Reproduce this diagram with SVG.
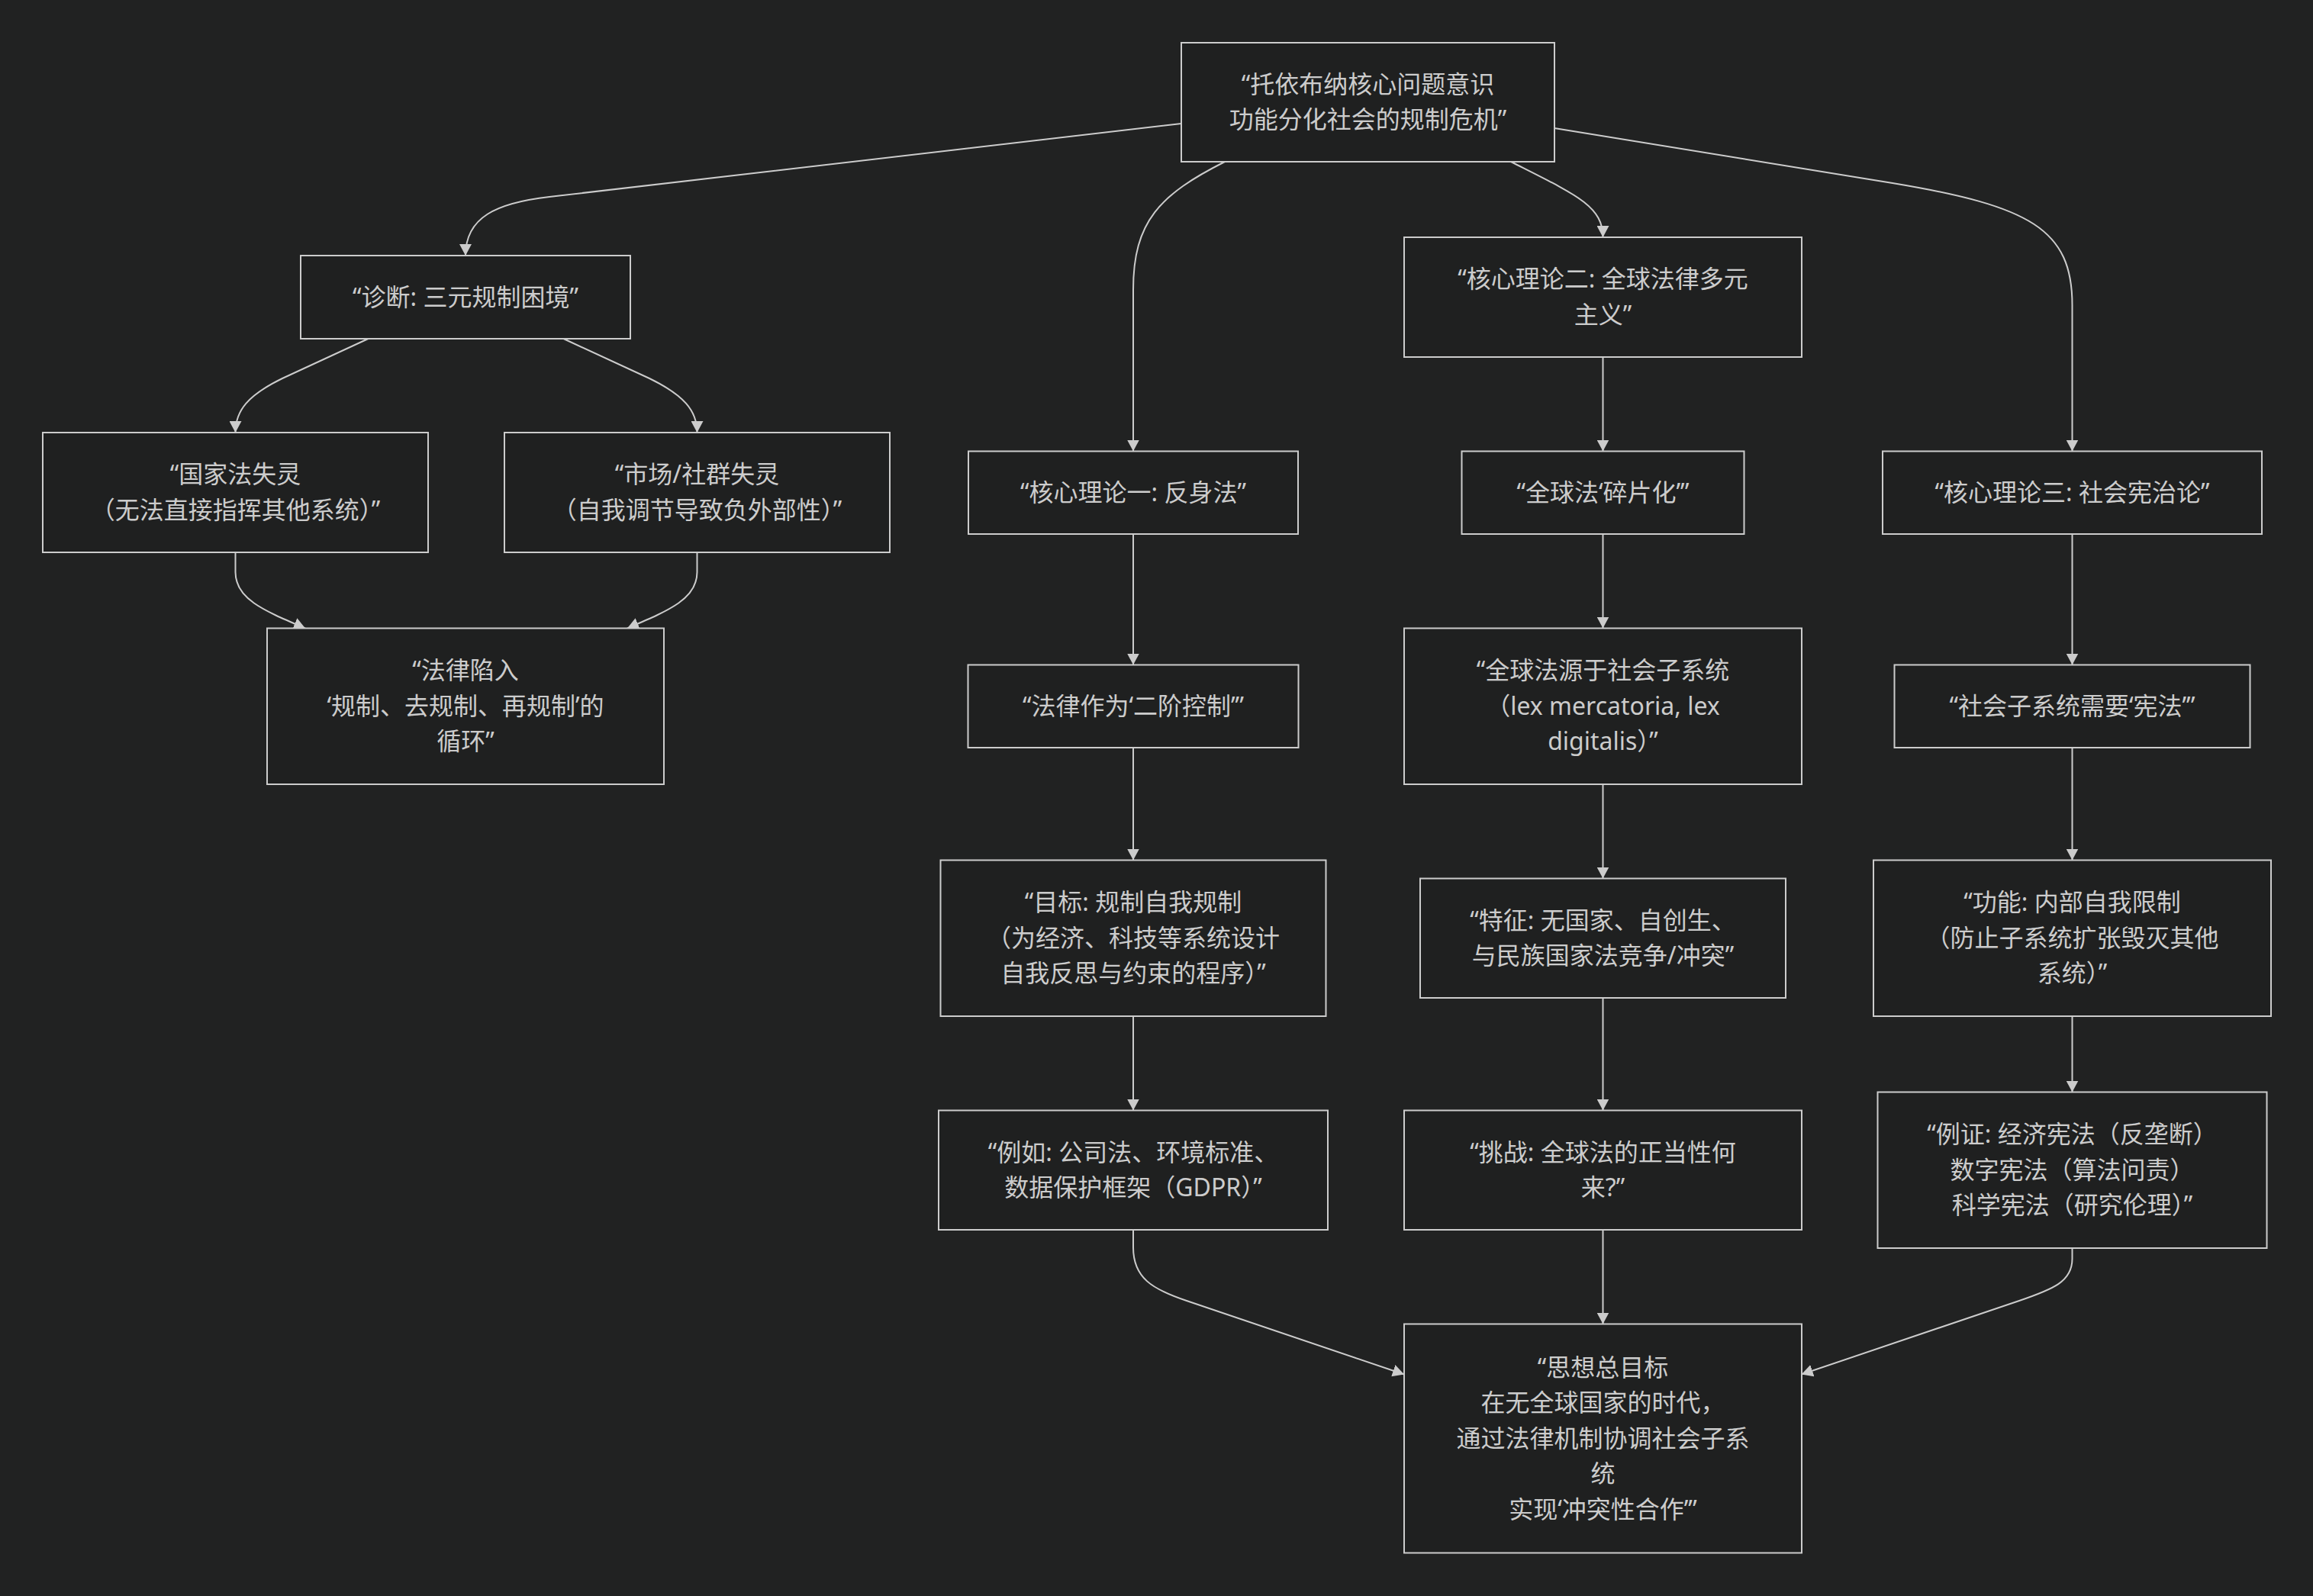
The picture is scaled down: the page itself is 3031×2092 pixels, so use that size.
<svg xmlns="http://www.w3.org/2000/svg" width="3031" height="2092" viewBox="0 0 3031 2092">
<style>
.bg{fill:#212222}
.node rect{fill:#1f2020;stroke:#cccccc;stroke-width:2}
.node text{fill:#cccccc;font-family:"Noto Sans","Noto Sans CJK SC",sans-serif;font-size:32px;text-anchor:middle}
.edges path{fill:none;stroke:#cccccc;stroke-width:2;marker-end:url(#arrow)}
</style>
<defs>
<marker id="arrow" markerUnits="userSpaceOnUse" viewBox="0 0 15 16" refX="15" refY="8" markerWidth="15" markerHeight="16" orient="auto">
<path d="M0,0 L15,8 L0,16 z" fill="#cccccc"/>
</marker>
</defs>
<rect class="bg" x="0" y="0" width="3031" height="2092"/>
<g id="edges" class="edges">
<path d="M1548,162 L720,258 C650,266 610,285 610,335"/>
<path d="M1605,212 C1520,255 1485,290 1485,380 L1485,591.5"/>
<path d="M1980,212 C2065,255 2100.5,270 2100.5,311"/>
<path d="M2037,168 L2480,240 C2660,270 2715.5,300 2715.5,400 L2715.5,591.5"/>
<path d="M482.5,444 L370,496 C325,518 308.5,538 308.5,567"/>
<path d="M738.5,444 L851,496 C896,518 913.5,538 913.5,567"/>
<path d="M308.5,724 L308.5,750 C308.5,785 345,800 400,823.5"/>
<path d="M913.5,724 L913.5,750 C913.5,785 877,800 822,823.5"/>
<path d="M1485,700 L1485,871.5"/>
<path d="M1485,980 L1485,1127.5"/>
<path d="M1485,1332 L1485,1455.5"/>
<path d="M2100.5,468 L2100.5,591.5"/>
<path d="M2100.5,700 L2100.5,823.5"/>
<path d="M2100.5,1028 L2100.5,1151.5"/>
<path d="M2100.5,1308 L2100.5,1455.5"/>
<path d="M2715.5,700 L2715.5,871.5"/>
<path d="M2715.5,980 L2715.5,1127.5"/>
<path d="M2715.5,1332 L2715.5,1431.5"/>
<path d="M1485,1612 L1485,1635 C1485,1675 1510,1690 1555,1705 L1840,1801.5"/>
<path d="M2100.5,1612 L2100.5,1735.5"/>
<path d="M2715.5,1636 L2715.5,1650 C2715.5,1680 2690,1690 2646,1705 L2360.7,1801.5"/>
</g>
<g id="n-root" class="node"><rect x="1548" y="56" width="489" height="156"/>
<text x="1792.5" y="121.75">“托依布纳核心问题意识</text><text x="1792.5" y="168.25">功能分化社会的规制危机”</text></g>
<g id="n-diag" class="node"><rect x="394" y="335" width="432" height="109"/>
<text x="610" y="400.5">“诊断: 三元规制困境”</text></g>
<g id="n-state" class="node"><rect x="56" y="567" width="505" height="157"/>
<text x="308.5" y="633.25">“国家法失灵</text><text x="308.5" y="679.75">（无法直接指挥其他系统）”</text></g>
<g id="n-market" class="node"><rect x="661" y="567" width="505" height="157"/>
<text x="913.5" y="633.25">“市场/社群失灵</text><text x="913.5" y="679.75">（自我调节导致负外部性）”</text></g>
<g id="n-loop" class="node"><rect x="350" y="823.5" width="520" height="204.5"/>
<text x="610" y="890">“法律陷入</text><text x="610" y="936.5">‘规制、去规制、再规制’的</text><text x="610" y="983">循环”</text></g>
<g id="n-t1" class="node"><rect x="1269" y="591.5" width="432" height="108.5"/>
<text x="1485" y="656.75">“核心理论一: 反身法”</text></g>
<g id="n-second" class="node"><rect x="1268.5" y="871.5" width="433" height="108.5"/>
<text x="1485" y="936.75">“法律作为‘二阶控制’”</text></g>
<g id="n-goal" class="node"><rect x="1232.5" y="1127.5" width="505" height="204.5"/>
<text x="1485" y="1194.25">“目标: 规制自我规制</text><text x="1485" y="1240.75">（为经济、科技等系统设计</text><text x="1485" y="1287.25">自我反思与约束的程序）”</text></g>
<g id="n-eg" class="node"><rect x="1230" y="1455.5" width="510" height="156.5"/>
<text x="1485" y="1521.5">“例如: 公司法、环境标准、</text><text x="1485" y="1568">数据保护框架（GDPR）”</text></g>
<g id="n-t2" class="node"><rect x="1840" y="311" width="521" height="157"/>
<text x="2100.5" y="377.25">“核心理论二: 全球法律多元</text><text x="2100.5" y="423.75">主义”</text></g>
<g id="n-frag" class="node"><rect x="1915.5" y="591.5" width="370" height="108.5"/>
<text x="2100.5" y="656.75">“全球法‘碎片化’”</text></g>
<g id="n-source" class="node"><rect x="1840" y="823.5" width="521" height="204.5"/>
<text x="2100.5" y="890.25">“全球法源于社会子系统</text><text x="2100.5" y="936.75">（lex mercatoria, lex</text><text x="2100.5" y="983.25">digitalis）”</text></g>
<g id="n-feature" class="node"><rect x="1861" y="1151.5" width="479" height="156.5"/>
<text x="2100.5" y="1217.5">“特征: 无国家、自创生、</text><text x="2100.5" y="1264">与民族国家法竞争/冲突”</text></g>
<g id="n-challenge" class="node"><rect x="1840" y="1455.5" width="521" height="156.5"/>
<text x="2100.5" y="1521.5">“挑战: 全球法的正当性何</text><text x="2100.5" y="1568">来?”</text></g>
<g id="n-t3" class="node"><rect x="2467" y="591.5" width="497" height="108.5"/>
<text x="2715.5" y="656.75">“核心理论三: 社会宪治论”</text></g>
<g id="n-need" class="node"><rect x="2482.5" y="871.5" width="466" height="108.5"/>
<text x="2715.5" y="936.75">“社会子系统需要‘宪法’”</text></g>
<g id="n-function" class="node"><rect x="2455" y="1127.5" width="521" height="204.5"/>
<text x="2715.5" y="1194.25">“功能: 内部自我限制</text><text x="2715.5" y="1240.75">（防止子系统扩张毁灭其他</text><text x="2715.5" y="1287.25">系统）”</text></g>
<g id="n-example" class="node"><rect x="2460.5" y="1431.5" width="510" height="204.5"/>
<text x="2715.5" y="1498.25">“例证: 经济宪法（反垄断）</text><text x="2715.5" y="1544.75">数字宪法（算法问责）</text><text x="2715.5" y="1591.25">科学宪法（研究伦理）”</text></g>
<g id="n-final" class="node"><rect x="1840" y="1735.5" width="521" height="300"/>
<text x="2100.5" y="1803.5">“思想总目标</text><text x="2100.5" y="1850">在无全球国家的时代，</text><text x="2100.5" y="1896.5">通过法律机制协调社会子系</text><text x="2100.5" y="1943">统</text><text x="2100.5" y="1989.5">实现‘冲突性合作’”</text></g>
</svg>
